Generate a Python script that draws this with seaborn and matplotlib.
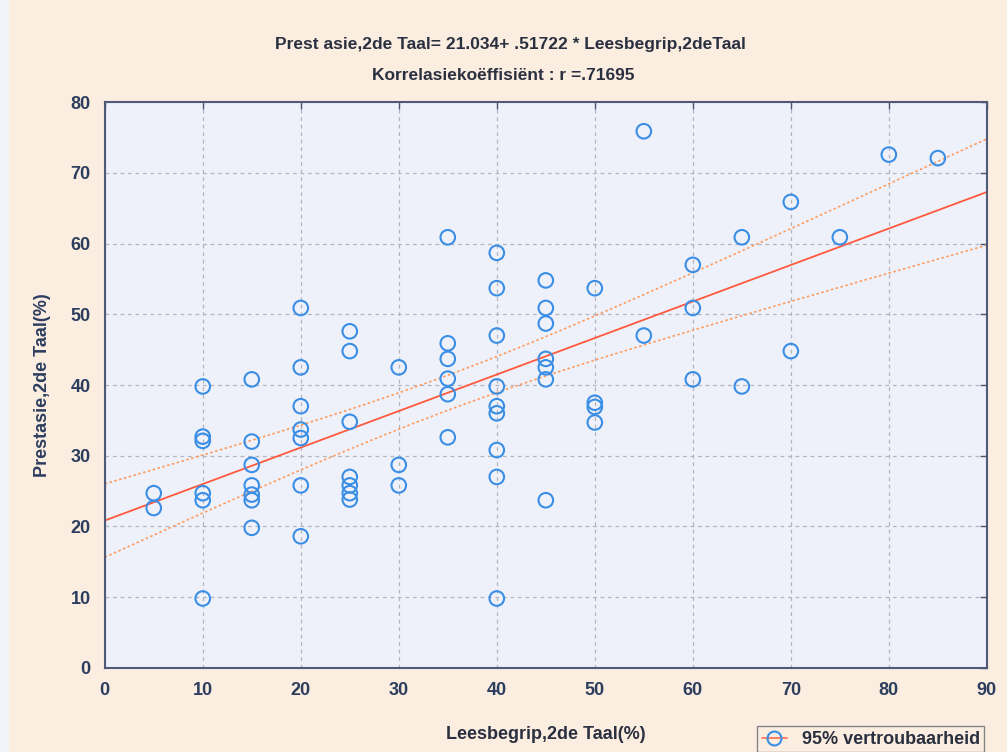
import numpy as np
import pandas as pd
import seaborn as sns
from matplotlib import pyplot as plt
from matplotlib.lines import Line2D

# Leesbegrip (x) groups and Prestasie (y) values
lees_5 = [24.7, 22.6]
lees_10 = [39.8, 32.7, 32.1, 24.7, 23.7, 9.8]
lees_15 = [40.8, 32.0, 28.7, 25.8, 24.5, 23.7, 19.8]
lees_20 = [50.9, 42.5, 37.0, 33.7, 32.5, 25.8, 18.6]
lees_25 = [47.6, 44.8, 34.8, 27.0, 25.8, 24.7, 23.8]
lees_30 = [42.5, 28.7, 25.8]
lees_35 = [60.9, 45.9, 43.7, 40.9, 38.7, 32.6]
lees_40 = [58.7, 53.7, 47.0, 39.8, 37.0, 36.0, 30.8, 27.0, 9.8]
lees_45 = [54.8, 50.9, 48.7, 43.7, 42.5, 40.8, 23.7]
lees_50 = [53.7, 37.5, 36.9, 34.7]
lees_55 = [75.9, 47.0]
lees_60 = [57.0, 50.9, 40.8]
lees_65 = [60.9, 39.8]
lees_70 = [65.9, 44.8]
lees_75 = [60.9]
lees_80 = [72.6]
lees_85 = [72.1]

groups = {5: lees_5, 10: lees_10, 15: lees_15, 20: lees_20, 25: lees_25,
          30: lees_30, 35: lees_35, 40: lees_40, 45: lees_45, 50: lees_50,
          55: lees_55, 60: lees_60, 65: lees_65, 70: lees_70, 75: lees_75,
          80: lees_80, 85: lees_85}

rows = [(x, y) for x, ys in groups.items() for y in ys]
df = pd.DataFrame(rows, columns=['lees', 'prestasie'])

title_1 = 'Prest asie,2de Taal= 21.034+ .51722 * Leesbegrip,2deTaal'
title_2 = 'Korrelasiekoëffisiënt : r =.71695'

text_col = '#2b3040'
tick_col = '#2c3d5e'

sns.set_style('white')
plt.rcParams['font.family'] = ['Liberation Sans', 'DejaVu Sans']

fig = plt.figure(figsize=(10.07, 7.52), dpi=100, facecolor='#fbeee1')
ax = fig.add_axes([0.104, 0.112, 0.876, 0.752])
ax.set_facecolor('#eef1fa')

# fitted line and 95% confidence band of the mean
x = df['lees'].to_numpy()
y = df['prestasie'].to_numpy()
slope, intercept = np.polyfit(x, y, 1)
xs = np.linspace(0, 90, 200)
fit = intercept + slope * xs
resid = y - (intercept + slope * x)
n = len(x)
s = np.sqrt(np.sum(resid ** 2) / (n - 2))
se = s * np.sqrt(1 / n + (xs - x.mean()) ** 2 / np.sum((x - x.mean()) ** 2))
tval = 1.995
ax.plot(xs, fit + tval * se, color='#ff9a5c', lw=1.2, ls=(0, (1.5, 1.5)), zorder=2)
ax.plot(xs, fit - tval * se, color='#ff9a5c', lw=1.2, ls=(0, (1.5, 1.5)), zorder=2)
ax.plot(xs, fit, color='#ff5a3c', lw=1.3, zorder=2)

sns.scatterplot(data=df, x='lees', y='prestasie', ax=ax, s=110,
                facecolor='none', edgecolor='#3a8ee6', linewidth=1.5, zorder=3)

ax.set_xlim(0, 90)
ax.set_ylim(0, 80)
ax.set_xticks(range(0, 91, 10))
ax.set_yticks(range(0, 81, 10))
ax.grid(True, color='#b4b4bc', ls=(0, (3, 3)), lw=0.9)
ax.tick_params(direction='in', length=5, width=1, color='#4a5570',
               top=True, right=True, labelsize=13, labelcolor=tick_col, pad=10)
for lab in ax.get_xticklabels() + ax.get_yticklabels():
    lab.set_fontweight('bold')
for sp in ax.spines.values():
    sp.set_color('#4e5a78')
    sp.set_linewidth(1.5)

ax.set_xlabel('Leesbegrip,2de Taal(%)', fontsize=13, fontweight='bold',
              color=text_col, labelpad=20)
ax.set_ylabel('Prestasie,2de Taal(%)', fontsize=13, fontweight='bold',
              color=tick_col, labelpad=14)

fig.text(0.507, 0.941, title_1, ha='center', va='center', fontsize=12.5,
         fontweight='bold', color=text_col)
fig.text(0.5, 0.899, title_2, ha='center', va='center', fontsize=12.5,
         fontweight='bold', color=text_col)

# left bluish strip of the scanned page
fig.patches.append(plt.Rectangle((0, 0), 0.009, 1, transform=fig.transFigure,
                                 facecolor='#f3f3fa', edgecolor='none'))

handle = Line2D([], [], color='#ff6a50', lw=1.2, marker='o', markersize=10,
                markerfacecolor='none', markeredgecolor='#3a8ee6', markeredgewidth=1.5)
leg = fig.legend(handles=[handle], labels=['95% vertroubaarheid'],
                 loc='upper left', bbox_to_anchor=(0.752, 0.034),
                 borderaxespad=0, frameon=True, fancybox=False, handlelength=1.4,
                 prop={'weight': 'bold', 'size': 13}, borderpad=0.25)
leg.get_frame().set_edgecolor('#6a6a72')
leg.get_frame().set_facecolor('#fbeee1')
for t in leg.get_texts():
    t.set_color(text_col)

fig.savefig('out.png', dpi=100, facecolor=fig.get_facecolor())
